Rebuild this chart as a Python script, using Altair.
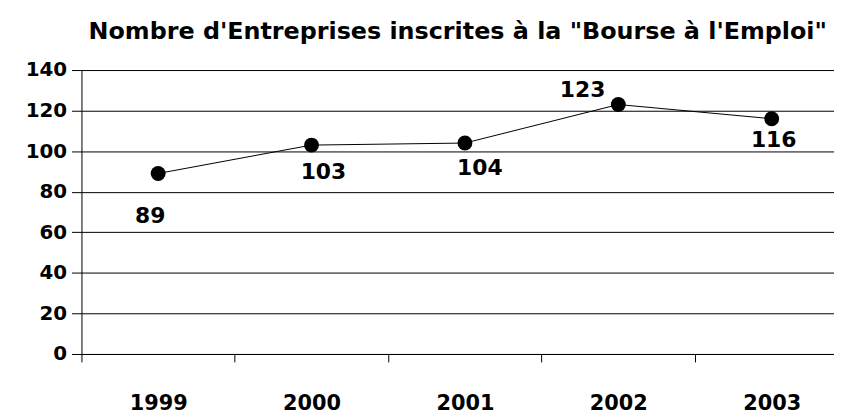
import altair as alt
import pandas as pd

years = ["1999", "2000", "2001", "2002", "2003"]
values = [89, 103, 104, 123, 116]

# label offsets (dx, dy) per year for the value labels
label_dx = [-8, 12, 15, -36, 2]
label_dy = [43, 27, 25, -15, 21]

df = pd.DataFrame({"year": [int(v) for v in years], "value": values})

FONT = "DejaVu Sans"
W = 758
STEP = 154.5
first = int(years[0])
bounds = [first - 0.5 + i for i in range(len(years))]

x = alt.X("year:Q", title=None,
          scale=alt.Scale(domain=[first - 0.5, first - 0.5 + W / STEP], nice=False, zero=False),
          axis=alt.Axis(values=bounds, labelExpr="format(datum.value + 0.5, 'd')",
                        labelOffset=STEP / 2, labelFlush=False, labelOverlap=False,
                        labelAngle=0, labelFont=FONT, labelFontSize=21, labelFontWeight="bold",
                        labelColor="black", tickSize=8, tickColor="black",
                        domainColor="black", labelPadding=31, grid=False))
y = alt.Y("value:Q", title=None,
          scale=alt.Scale(domain=[0, 140], nice=False),
          axis=alt.Axis(values=list(range(0, 141, 20)), labelFont=FONT, labelFontSize=20,
                        labelFontWeight="bold", labelColor="black", tickSize=10, tickColor="black",
                        domainColor="black", gridColor="black", gridOpacity=1, labelPadding=5))

base = alt.Chart(df)

shadow_path = "M 0.2,-0.3 A 0.5,0.5 0 1,1 -0.8,-0.3 A 0.5,0.5 0 1,1 0.2,-0.3 Z"

line = base.mark_line(color="black", strokeWidth=1).encode(x=x, y=y)
shadow = base.mark_point(filled=True, fill="white", stroke="#555555", strokeWidth=1.2,
                         size=210, opacity=1, shape=shadow_path).encode(x=x, y=y)
points = base.mark_point(filled=True, color="black", size=225, opacity=1,
                         shape="circle").encode(x=x, y=y)

texts = []
for yr, dx, dy in zip(years, label_dx, label_dy):
    texts.append(
        base.transform_filter(alt.datum.year == int(yr))
        .mark_text(font=FONT, fontSize=22, fontWeight="bold", color="black", dx=dx, dy=dy)
        .encode(x=x, y=y, text="value:Q")
    )

chart = alt.layer(line, shadow, points, *texts).properties(
    width=W, height=286,
    title=alt.TitleParams("Nombre d'Entreprises inscrites à la \"Bourse à l'Emploi\"",
                          font=FONT, fontSize=24, fontWeight="bold", color="black",
                          anchor="middle", offset=16),
    autosize=alt.AutoSizeParams(type="none"),
    padding={"left": 74, "top": 61, "right": 0, "bottom": 63},
).configure_view(stroke=None).configure_axis(domainWidth=1, tickWidth=1, gridWidth=1)

chart.save("out.html", embed_options={"renderer": "svg", "actions": False})
